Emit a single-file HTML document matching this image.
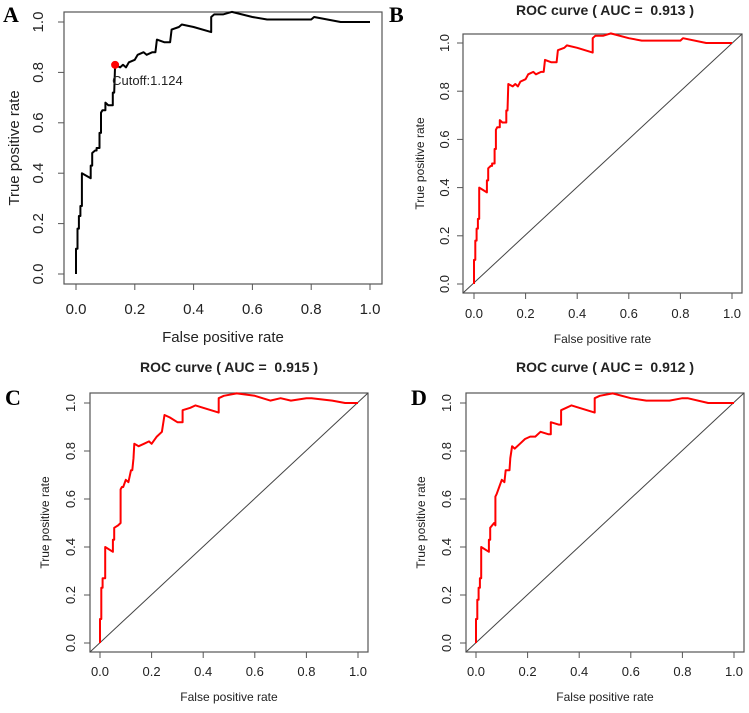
<!DOCTYPE html>
<html><head><meta charset="utf-8"><style>
html,body{margin:0;padding:0;background:#fff;}
svg{display:block;font-family:"Liberation Sans",Arial,sans-serif;}
svg text{white-space:pre;}
</style></head><body>
<svg id="fig" width="749" height="713" viewBox="0 0 749 713" xmlns="http://www.w3.org/2000/svg"></svg>
<script>
const xTicks=[0,0.2,0.4,0.6,0.8,1.0];
const yTicks=[0,0.2,0.4,0.6,0.8,1.0];
const tickLabels=["0.0","0.2","0.4","0.6","0.8","1.0"];
const fprA=[0,0,0.005,0.005,0.01,0.01,0.015,0.015,0.02,0.02,0.05,0.05,0.055,0.055,0.065,0.07,0.07,0.08,0.08,0.085,0.085,0.09,0.1,0.1,0.11,0.125,0.125,0.13,0.133,0.15,0.16,0.17,0.18,0.2,0.21,0.23,0.24,0.26,0.27,0.275,0.3,0.32,0.325,0.35,0.36,0.4,0.46,0.46,0.47,0.5,0.53,0.6,0.65,0.7,0.75,0.8,0.81,0.9,0.95,1];
const tprA=[0,0.1,0.1,0.18,0.18,0.23,0.23,0.27,0.27,0.40,0.38,0.43,0.43,0.48,0.49,0.49,0.50,0.50,0.56,0.56,0.64,0.65,0.65,0.68,0.67,0.67,0.72,0.72,0.83,0.82,0.83,0.82,0.84,0.85,0.87,0.88,0.87,0.88,0.88,0.93,0.92,0.92,0.97,0.98,0.99,0.98,0.96,1.02,1.03,1.03,1.04,1.02,1.01,1.01,1.01,1.01,1.02,1.0,1.0,1.0];
const fprC=[0,0,0.005,0.005,0.01,0.01,0.02,0.02,0.05,0.05,0.055,0.055,0.07,0.08,0.08,0.085,0.09,0.1,0.11,0.12,0.125,0.13,0.133,0.15,0.17,0.19,0.2,0.22,0.24,0.25,0.27,0.3,0.32,0.32,0.35,0.37,0.4,0.46,0.46,0.48,0.53,0.6,0.66,0.7,0.74,0.8,0.82,0.9,0.95,1];
const tprC=[0,0.1,0.1,0.23,0.23,0.27,0.27,0.40,0.38,0.43,0.43,0.48,0.49,0.5,0.64,0.65,0.65,0.68,0.67,0.72,0.72,0.77,0.83,0.82,0.83,0.84,0.83,0.86,0.88,0.95,0.94,0.92,0.92,0.97,0.98,0.99,0.98,0.96,1.02,1.03,1.04,1.03,1.01,1.02,1.01,1.02,1.02,1.01,1.0,1.0];
const fprD=[0,0,0.005,0.005,0.01,0.01,0.015,0.015,0.02,0.02,0.05,0.05,0.055,0.055,0.07,0.075,0.075,0.08,0.09,0.1,0.11,0.115,0.13,0.133,0.14,0.15,0.17,0.19,0.21,0.23,0.25,0.28,0.29,0.29,0.32,0.33,0.33,0.35,0.37,0.4,0.46,0.46,0.48,0.53,0.6,0.66,0.7,0.75,0.8,0.82,0.9,0.95,1];
const tprD=[0,0.1,0.1,0.18,0.18,0.23,0.23,0.27,0.27,0.40,0.38,0.43,0.43,0.48,0.50,0.49,0.61,0.62,0.65,0.68,0.67,0.72,0.72,0.77,0.82,0.81,0.83,0.85,0.86,0.86,0.88,0.87,0.87,0.92,0.91,0.91,0.97,0.98,0.99,0.98,0.96,1.02,1.03,1.04,1.02,1.01,1.01,1.01,1.02,1.02,1.0,1.0,1.0];
const cutoffPoint=[0.133,0.83];

const NS="http://www.w3.org/2000/svg";
const svg=document.getElementById('fig');
function mk(tag,attrs,parent,text){const e=document.createElementNS(NS,tag);for(const k in attrs)e.setAttribute(k,attrs[k]);if(text!==undefined)e.textContent=text;(parent||svg).appendChild(e);return e;}

function panel(p){
  const g=mk('g',{});
  
  
  const sx=v=>p.x0+(p.x1-p.x0)*v, sy=v=>p.y0+(p.y1-p.y0)*v;
  const box=mk('rect',{x:p.bl,y:p.bt,width:p.br-p.bl,height:p.bb-p.bt,fill:'none',stroke:'#555','stroke-width':1.2},g);
  
  
  const fs=p.fs;
  xTicks.forEach((t,i)=>{
    mk('line',{x1:sx(t),x2:sx(t),y1:p.bb,y2:p.bb+6,stroke:'#555'},g);
    const tl=mk('text',{x:sx(t),y:p.xty,'text-anchor':'middle','font-size':fs,fill:'#222'},g,tickLabels[i]);
    
    
  });
  yTicks.forEach((t,i)=>{
    mk('line',{x1:p.bl,x2:p.bl-6,y1:sy(t),y2:sy(t),stroke:'#555'},g);
    const tl=mk('text',{x:p.ytx,y:sy(t),'text-anchor':'middle','font-size':fs,fill:'#222',transform:`rotate(-90 ${p.ytx} ${sy(t)})`},g,tickLabels[i]);
    
    
  });
  const xl=mk('text',{x:(p.bl+p.br)/2,y:p.xly,'text-anchor':'middle','font-size':p.lfs,fill:'#222'},g,'False positive rate');
  
  
  const yc=(p.bt+p.bb)/2;
  const yl=mk('text',{x:p.ylx,y:yc,'text-anchor':'middle','font-size':p.lfs,fill:'#222',transform:`rotate(-90 ${p.ylx} ${yc})`},g,'True positive rate');
  
  
  if(p.title){
    const t=mk('text',{x:p.tx,y:p.ty,'text-anchor':'middle','font-size':14,'font-weight':'bold',fill:'#222'},g,p.title);
    
    
  }
  if(p.diag){
    const d=mk('line',{x1:p.bl,y1:p.bb,x2:p.br,y2:p.bt,stroke:'#444','stroke-width':1},g);
    
    
  }
  const pts=p.fx.map((v,i)=>sx(v).toFixed(1)+','+sy(p.ty2[i]).toFixed(1)).join(' ');
  const c=mk('polyline',{points:pts,fill:'none',stroke:p.color,'stroke-width':2,'stroke-linejoin':'round'},g);
  
  
  if(p.cut){
    const dot=mk('circle',{cx:sx(cutoffPoint[0]),cy:sy(cutoffPoint[1]),r:4,fill:'#f00'},g);
    
    
    const ct=mk('text',{x:sx(cutoffPoint[0])-3,y:sy(cutoffPoint[1])+20,'font-size':13,fill:'#222'},g,'Cutoff:1.124');
    
    
  }
  const L=mk('text',{x:p.lx,y:p.ly,'font-size':22,'font-weight':'bold','font-family':'"Liberation Serif",serif',fill:'#000'},g,p.id);
  
  
}

panel({id:'A',bl:64,bt:12,br:382,bb:284,x0:76,x1:370,y0:274,y1:22,fs:15,lfs:15,xty:314,ytx:43,xly:342,ylx:19,fx:fprA,ty2:tprA,color:'#000',cut:true,lx:3,ly:22});
panel({id:'B',bl:463,bt:34,br:742,bb:293,x0:474,x1:732,y0:284,y1:43,fs:13,lfs:12,xty:318,ytx:449,xly:343,ylx:424,fx:fprA,ty2:tprA,color:'#f00',diag:true,title:'ROC curve ( AUC =  0.913 )',tx:605,ty:15,lx:389,ly:22});
panel({id:'C',bl:90,bt:393,br:368,bb:652,x0:100,x1:358,y0:643,y1:403,fs:13,lfs:12,xty:676,ytx:75,xly:701,ylx:49,fx:fprC,ty2:tprC,color:'#f00',diag:true,title:'ROC curve ( AUC =  0.915 )',tx:229,ty:372,lx:5,ly:405});
panel({id:'D',bl:466,bt:393,br:744,bb:652,x0:476,x1:734,y0:643,y1:403,fs:13,lfs:12,xty:676,ytx:451,xly:701,ylx:425,fx:fprD,ty2:tprD,color:'#f00',diag:true,title:'ROC curve ( AUC =  0.912 )',tx:605,ty:372,lx:411,ly:405});
</script>
</body></html>
